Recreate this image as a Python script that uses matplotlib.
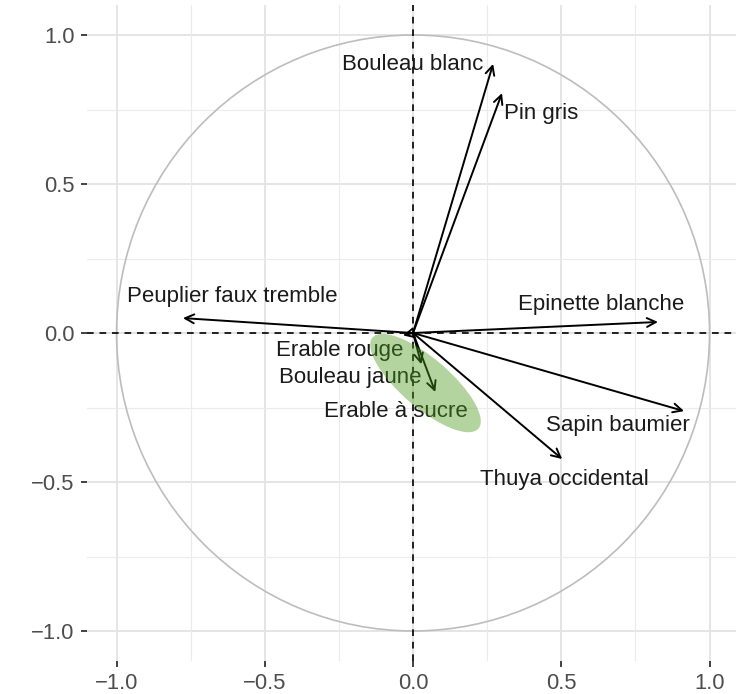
import numpy as np
import matplotlib
matplotlib.use("Agg")
import matplotlib.pyplot as plt
from matplotlib.patches import Circle, Ellipse

plt.rcParams['font.family'] = ['Liberation Sans', 'DejaVu Sans']

# Correlation circle: species loadings on the first two axes
species = ["Bouleau blanc", "Pin gris", "Epinette blanche", "Peuplier faux tremble",
           "Sapin baumier", "Thuya occidental", "Erable rouge", "Bouleau jaune",
           "Erable à sucre"]
axis1 = [0.27, 0.30, 0.826, -0.776, 0.914, 0.503, -0.034, 0.028, 0.075]
axis2 = [0.903, 0.805, 0.037, 0.050, -0.262, -0.423, -0.008, -0.105, -0.198]

# Label anchor positions (repelled away from arrow tips)
label_x = [0.0, 0.432, 0.634, -0.610, 0.691, 0.509, -0.246, -0.212, -0.057]
label_y = [0.900, 0.738, 0.094, 0.124, -0.312, -0.490, -0.060, -0.151, -0.262]

# Group highlight ellipse (hardwood species)
ell_center = (0.042, -0.168)
ell_width = 0.47
ell_height = 0.165
ell_angle = -40.5

major_ticks = [-1.0, -0.5, 0.0, 0.5, 1.0]
minor_ticks = [-0.75, -0.25, 0.25, 0.75]
tick_labels = ["\u22121.0", "\u22120.5", "0.0", "0.5", "1.0"]

fig = plt.figure(figsize=(7.36, 6.94), dpi=100)
ax = fig.add_axes([86.9 / 736, 33.2 / 694, 652.3 / 736, 655.6 / 694])
ax.set_xlim(-1.1, 1.1)
ax.set_ylim(-1.1, 1.1)
ax.set_facecolor("white")

for v in major_ticks:
    ax.axvline(v, color="#e3e3e3", lw=1.3, zorder=0)
    ax.axhline(v, color="#e3e3e3", lw=1.3, zorder=0)
for v in minor_ticks:
    ax.axvline(v, color="#ebebeb", lw=0.8, zorder=0)
    ax.axhline(v, color="#ebebeb", lw=0.8, zorder=0)

ax.add_patch(Circle((0, 0), 1.0, fill=False, edgecolor="#bdbdbd", lw=1.2, zorder=1))

ax.axhline(0, color="black", lw=1.2, ls=(0, (4, 3.5)), zorder=2)
ax.axvline(0, color="black", lw=1.2, ls=(0, (4, 3.5)), zorder=2)

for x, y in zip(axis1, axis2):
    ax.annotate("", xy=(x, y), xytext=(0, 0),
                arrowprops=dict(arrowstyle="->", color="black", lw=1.4,
                                shrinkA=0, shrinkB=0, mutation_scale=16),
                zorder=3)

for name, lx, ly in zip(species, label_x, label_y):
    ax.text(lx, ly, name, ha="center", va="center", fontsize=16,
            color="#1a1a1a", zorder=4)

ax.add_patch(Ellipse(ell_center, ell_width, ell_height, angle=ell_angle,
                     facecolor="#4a9a1a", edgecolor="none", alpha=0.42, zorder=5))

ax.set_xticks(major_ticks)
ax.set_yticks(major_ticks)
ax.set_xticklabels(tick_labels)
ax.set_yticklabels(tick_labels)
ax.tick_params(axis="both", length=4.5, width=1.3, color="#333333",
               labelcolor="#4d4d4d", labelsize=15.8, pad=4.5)
for s in ax.spines.values():
    s.set_visible(False)

fig.savefig("out.png", dpi=100)
